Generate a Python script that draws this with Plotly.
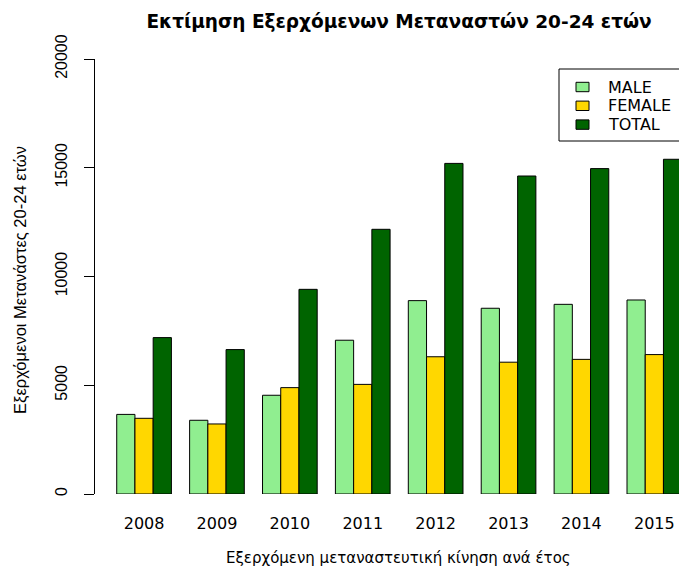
import plotly.graph_objects as go

years = ["2008", "2009", "2010", "2011", "2012", "2013", "2014", "2015"]
male = [3660, 3390, 4540, 7070, 8890, 8540, 8720, 8920]
female = [3480, 3220, 4890, 5040, 6310, 6060, 6190, 6410]
total = [7190, 6640, 9410, 12170, 15200, 14620, 14960, 15390]
y_ticks = [0, 5000, 10000, 15000, 20000]
series_names = ["MALE", "FEMALE", "TOTAL"]
series_colors = ["#90EE90", "#FFD700", "#006400"]

title = "Εκτίμηση Εξερχόμενων Μεταναστών 20-24 ετών"
x_title = "Εξερχόμενη μεταναστευτική κίνηση ανά έτος"
y_title = "Εξερχόμενοι Μετανάστες 20-24 ετών"

ARIAL = "Liberation Sans, Arial, sans-serif"
WIDE = "DejaVu Sans, Verdana, sans-serif"

fig = go.Figure()
for name, vals, col in zip(series_names, [male, female, total], series_colors):
    fig.add_trace(go.Bar(x=years, y=vals, name=name, showlegend=False,
                         marker=dict(color=col, line=dict(color="black", width=1))))

# page body has an 8px margin; layout numbers are in screen pixels
OFF = 8
W, H = 687, 570
L, R, T, B = 87, 8, 51, 84
pw = W - L - R
ph = H - T - B

def px_x(px):
    return (px - OFF - L) / pw

def px_y(py):
    return (H - B - (py - OFF)) / ph

fig.update_layout(
    width=W, height=H,
    margin=dict(l=L, r=R, t=T, b=B),
    paper_bgcolor="white", plot_bgcolor="white",
    font=dict(family=ARIAL, color="black", size=15),
    barmode="group", bargap=0.25, bargroupgap=0,
    title=dict(text="<b>" + title + "</b>", font=dict(size=18.5, family=WIDE), x=px_x(399), xref="paper",
               xanchor="center", y=1 - (22 - OFF) / H, yanchor="middle"),
    xaxis=dict(type="category", range=[-0.673, 7.448], showline=False, ticks="", showgrid=False,
               tickfont=dict(size=16, family=WIDE), ticklabelstandoff=18, zeroline=False),
    yaxis=dict(range=[0, 20000], tickvals=y_ticks, ticktext=[str(v) for v in y_ticks],
               showline=True, linecolor="black", linewidth=1,
               ticks="outside", ticklen=10, tickcolor="black", tickwidth=1, showgrid=False, zeroline=False,
               tickangle=-90, tickfont=dict(size=16, family=ARIAL), ticklabelstandoff=11),
    showlegend=False,
)

# legend box
fig.add_shape(type="rect", xref="paper", yref="paper", x0=px_x(559), x1=px_x(685), y0=px_y(141), y1=px_y(69),
              line=dict(color="black", width=1), fillcolor="white")
for i, (name, col) in enumerate(zip(series_names, series_colors)):
    cy = 87 + 18.8 * i
    fig.add_shape(type="rect", xref="paper", yref="paper", x0=px_x(576), x1=px_x(589),
                  y0=px_y(cy + 4.7), y1=px_y(cy - 4.7), line=dict(color="black", width=1), fillcolor=col)
    fig.add_annotation(text=name, xref="paper", yref="paper", x=px_x(606), y=px_y(cy), showarrow=False,
                       xanchor="left", yanchor="middle", font=dict(size=16, family=WIDE))

fig.add_annotation(text=x_title, xref="paper", yref="paper", x=px_x(398), y=px_y(558), showarrow=False,
                   xanchor="center", yanchor="middle", font=dict(size=15, family=WIDE))
fig.add_annotation(text=y_title, xref="paper", yref="paper", x=px_x(20), y=px_y(280), showarrow=False,
                   textangle=-90, xanchor="center", yanchor="middle", font=dict(size=16.5, family=ARIAL))

fig.write_html("out.html")
